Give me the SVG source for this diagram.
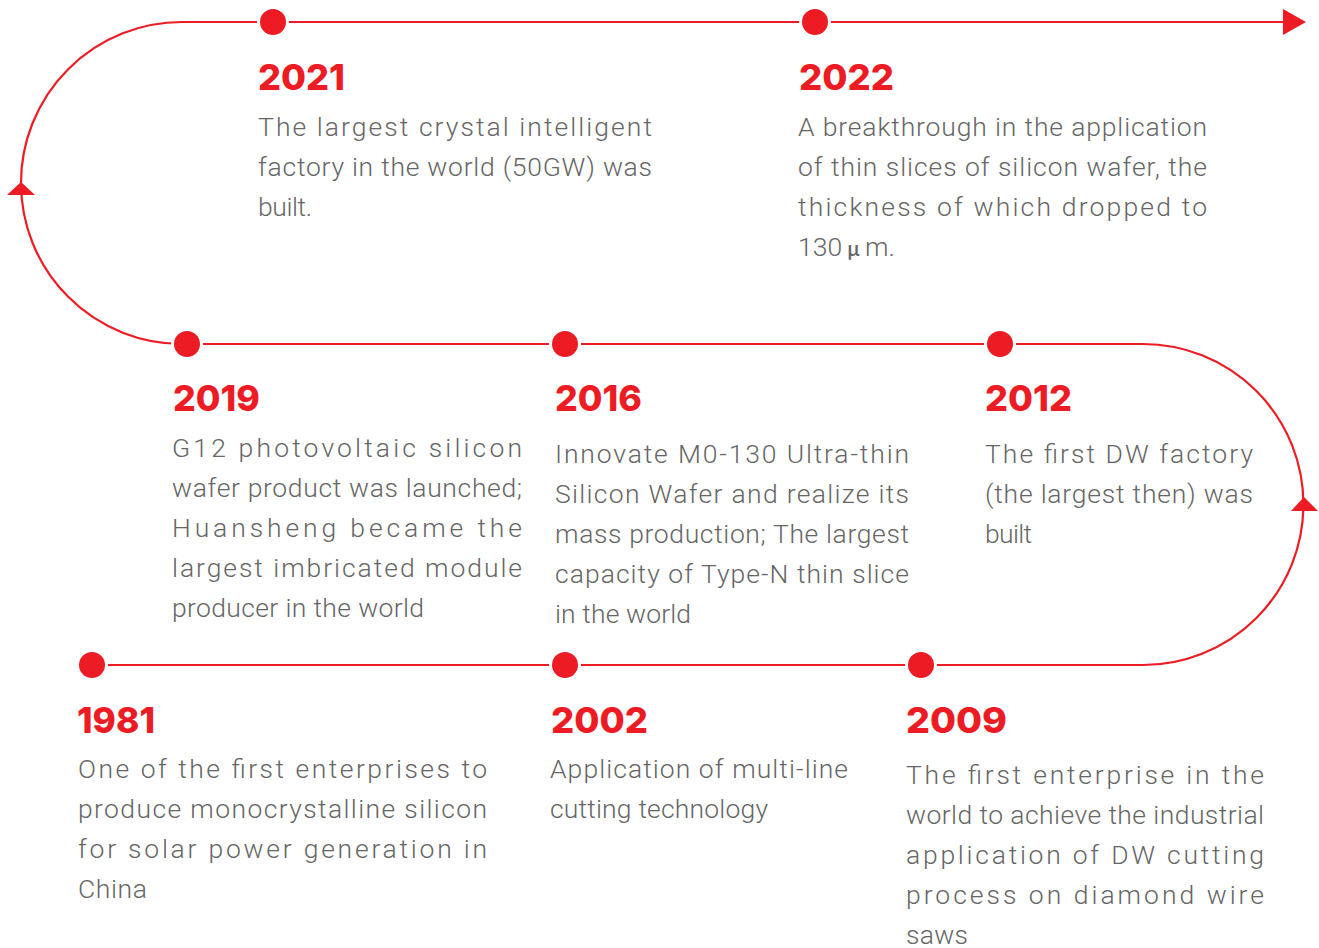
<svg xmlns="http://www.w3.org/2000/svg" width="1319" height="948" viewBox="0 0 1319 948">
<style>
  .ln { fill: none; stroke: #ED1C24; stroke-width: 2.2; }
  .ah { fill: #ED1C24; }
  .dot { fill: #ED1C24; stroke: #FFFFFF; stroke-width: 3; }
  .yr { font-family: Inter, "Open Sans", "Liberation Sans", sans-serif; font-weight: 800; font-size: 36px; fill: #ED1C24; }
  .tx { font-family: Roboto, "Open Sans", "Liberation Sans", sans-serif; font-weight: 300; font-size: 26.5px; fill: #666666; }
  .mu { font-family: "Noto Sans CJK SC", sans-serif; font-weight: 500; font-size: 20px; }
</style>
<rect width="1319" height="948" fill="#FFFFFF"/>
<g id="connectors">
  <path class="ln" d="M182 22 H1290"/>
  <polygon class="ah" points="1306,22 1283,9 1283,35"/>
  <path class="ln" d="M182 22 A161 161 0 0 0 182 344"/>
  <polygon class="ah" points="21,182 7,195 35,195"/>
  <path class="ln" d="M182 344 H1143"/>
  <path class="ln" d="M1143 344 A160.5 160.5 0 0 1 1143 665"/>
  <polygon class="ah" points="1304,497 1291,511 1318,511"/>
  <path class="ln" d="M92 665 H1143"/>
</g>
<g id="node-2021">
  <circle class="dot" cx="273" cy="22" r="14.5"/>
  <text class="yr" x="258" y="90" textLength="87" lengthAdjust="spacingAndGlyphs">2021</text>
  <text class="tx" x="258" y="136" textLength="394" lengthAdjust="spacing">The largest crystal intelligent</text>
  <text class="tx" x="258" y="176" textLength="394" lengthAdjust="spacing">factory in the world (50GW) was</text>
  <text class="tx" x="258" y="216" textLength="54" lengthAdjust="spacing">built.</text>
</g>
<g id="node-2022">
  <circle class="dot" cx="815" cy="22" r="14.5"/>
  <text class="yr" x="799" y="90" textLength="95" lengthAdjust="spacingAndGlyphs">2022</text>
  <text class="tx" x="798" y="136" textLength="409" lengthAdjust="spacing">A breakthrough in the application</text>
  <text class="tx" x="798" y="176" textLength="409" lengthAdjust="spacing">of thin slices of silicon wafer, the</text>
  <text class="tx" x="798" y="216" textLength="409" lengthAdjust="spacing">thickness of which dropped to</text>
  <text class="tx" x="798" y="256">130<tspan class="mu" dx="5">μ</tspan><tspan dx="5">m.</tspan></text>
</g>
<g id="node-2019">
  <circle class="dot" cx="187" cy="344" r="14.5"/>
  <text class="yr" x="173" y="411" textLength="87" lengthAdjust="spacingAndGlyphs">2019</text>
  <text class="tx" x="172" y="457" textLength="350" lengthAdjust="spacing">G12 photovoltaic silicon</text>
  <text class="tx" x="172" y="497" textLength="350" lengthAdjust="spacing">wafer product was launched;</text>
  <text class="tx" x="172" y="537" textLength="350" lengthAdjust="spacing">Huansheng became the</text>
  <text class="tx" x="172" y="577" textLength="350" lengthAdjust="spacing">largest imbricated module</text>
  <text class="tx" x="172" y="617" textLength="252" lengthAdjust="spacing">producer in the world</text>
</g>
<g id="node-2016">
  <circle class="dot" cx="565" cy="344" r="14.5"/>
  <text class="yr" x="555" y="411" textLength="87" lengthAdjust="spacingAndGlyphs">2016</text>
  <text class="tx" x="555" y="463" textLength="354" lengthAdjust="spacing">Innovate M0-130 Ultra-thin</text>
  <text class="tx" x="555" y="503" textLength="354" lengthAdjust="spacing">Silicon Wafer and realize its</text>
  <text class="tx" x="555" y="543" textLength="354" lengthAdjust="spacing">mass production; The largest</text>
  <text class="tx" x="555" y="583" textLength="354" lengthAdjust="spacing">capacity of Type-N thin slice</text>
  <text class="tx" x="555" y="623" textLength="136" lengthAdjust="spacing">in the world</text>
</g>
<g id="node-2012">
  <circle class="dot" cx="1000" cy="344" r="14.5"/>
  <text class="yr" x="985" y="411" textLength="87" lengthAdjust="spacingAndGlyphs">2012</text>
  <text class="tx" x="985" y="463" textLength="268" lengthAdjust="spacing">The first DW factory</text>
  <text class="tx" x="985" y="503" textLength="268" lengthAdjust="spacing">(the largest then) was</text>
  <text class="tx" x="985" y="543" textLength="47" lengthAdjust="spacing">built</text>
</g>
<g id="node-1981">
  <circle class="dot" cx="92" cy="665" r="14.5"/>
  <text class="yr" x="77" y="733" textLength="78" lengthAdjust="spacingAndGlyphs">1981</text>
  <text class="tx" x="78" y="778" textLength="409" lengthAdjust="spacing">One of the first enterprises to</text>
  <text class="tx" x="78" y="818" textLength="409" lengthAdjust="spacing">produce monocrystalline silicon</text>
  <text class="tx" x="78" y="858" textLength="409" lengthAdjust="spacing">for solar power generation in</text>
  <text class="tx" x="78" y="898" textLength="69" lengthAdjust="spacing">China</text>
</g>
<g id="node-2002">
  <circle class="dot" cx="565" cy="665" r="14.5"/>
  <text class="yr" x="551" y="733" textLength="97" lengthAdjust="spacingAndGlyphs">2002</text>
  <text class="tx" x="550" y="778" textLength="298" lengthAdjust="spacing">Application of multi-line</text>
  <text class="tx" x="550" y="818" textLength="218" lengthAdjust="spacing">cutting technology</text>
</g>
<g id="node-2009">
  <circle class="dot" cx="921" cy="665" r="14.5"/>
  <text class="yr" x="906" y="733" textLength="101" lengthAdjust="spacingAndGlyphs">2009</text>
  <text class="tx" x="906" y="784" textLength="358" lengthAdjust="spacing">The first enterprise in the</text>
  <text class="tx" x="906" y="824" textLength="358" lengthAdjust="spacing">world to achieve the industrial</text>
  <text class="tx" x="906" y="864" textLength="358" lengthAdjust="spacing">application of DW cutting</text>
  <text class="tx" x="906" y="904" textLength="358" lengthAdjust="spacing">process on diamond wire</text>
  <text class="tx" x="906" y="944" textLength="62" lengthAdjust="spacing">saws</text>
</g>
</svg>
